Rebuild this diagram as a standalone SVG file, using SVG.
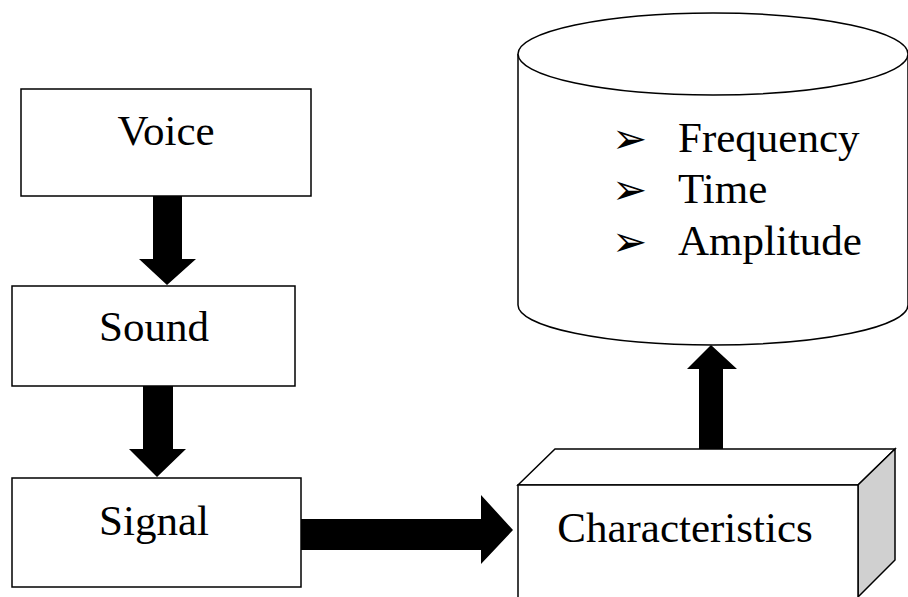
<svg xmlns="http://www.w3.org/2000/svg" width="908" height="597" viewBox="0 0 908 597">
<style>
.box{fill:#fff;stroke:#000;stroke-width:1.5}
.lbl{font-size:43px;fill:#000}
.blt{font-family:'DejaVu Sans',sans-serif;font-size:42px;fill:#000}
.arr{fill:#000;stroke:none}
</style>
<rect width="908" height="597" fill="#fff"/>
<g font-family="Liberation Serif, Times New Roman, serif">
<g id="voice">
<rect class="box" x="21" y="89" width="290" height="107"/>
<text class="lbl" x="166" y="145" text-anchor="middle">Voice</text>
</g>
<g id="sound">
<rect class="box" x="12" y="286" width="283" height="100"/>
<text class="lbl" x="154" y="341" text-anchor="middle">Sound</text>
</g>
<g id="signal">
<rect class="box" x="12" y="478" width="289" height="109"/>
<text class="lbl" x="154" y="535" text-anchor="middle">Signal</text>
</g>
<g id="characteristics">
<polygon class="box" points="518,485 555,449 895,449 858,485"/>
<polygon points="858,485 895,449 895,560 858,597" fill="#d0d0d0" stroke="#000" stroke-width="1.5"/>
<rect class="box" x="518" y="485" width="340" height="120"/>
<text class="lbl" x="685" y="542" text-anchor="middle">Characteristics</text>
</g>
<g id="features">
<path class="box" d="M518,54 L518,305 A195,40 0 0 0 908,305 L908,54"/>
<ellipse class="box" cx="713" cy="54" rx="195" ry="41"/>
<text class="blt" x="612" y="153">➢</text>
<text class="blt" x="612" y="204">➢</text>
<text class="blt" x="612" y="256">➢</text>
<text class="lbl" x="678" y="152">Frequency</text>
<text class="lbl" x="678" y="203">Time</text>
<text class="lbl" x="678" y="255">Amplitude</text>
</g>
</g>
<g id="connectors">
<polygon class="arr" points="153,196 182,196 182,259 196,259 167,285 139,259 153,259"/>
<polygon class="arr" points="143,386 173,386 173,449 186,449 157,477 129,449 143,449"/>
<polygon class="arr" points="301,519 481,519 481,495 513,530 481,564 481,550 301,550"/>
<polygon class="arr" points="699,449 723,449 723,369 737,369 711,345 687,369 699,369"/>
</g>
</svg>
